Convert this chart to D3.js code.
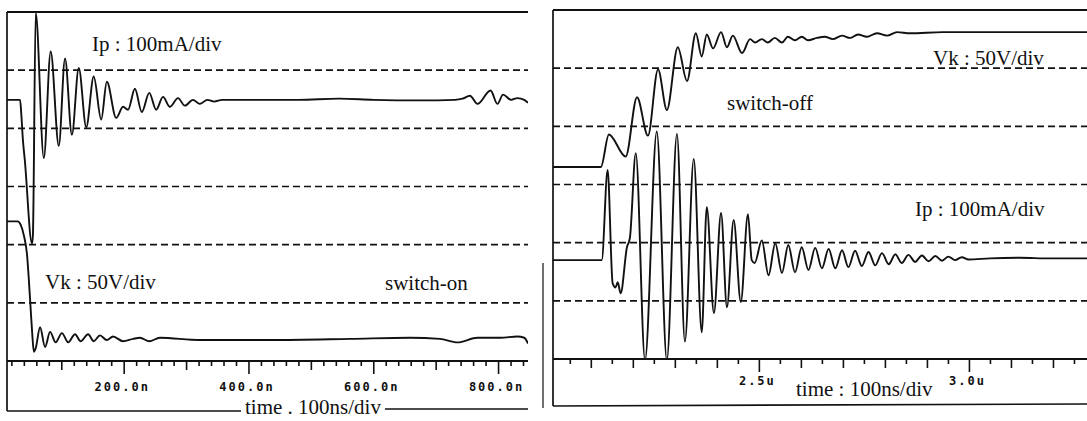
<!DOCTYPE html>
<html>
<head>
<meta charset="utf-8">
<script src="https://cdn.jsdelivr.net/npm/d3@7"></script>
<style>
  html, body { margin: 0; padding: 0; background: #fff; }
  svg { display: block; }
  .rotulo { font-family: "Liberation Serif", "Times New Roman", serif; font-size: 21px; fill: #111; }
  .tick text { font-family: "DejaVu Sans Mono", monospace; font-weight: bold; font-size: 12px; letter-spacing: 2px; fill: #111; }
</style>
</head>
<body>
<svg id="grafico" width="1087" height="421"></svg>
<script>
/*************************** DADOS LIDOS DA FIGURA ***************************/
// switch-on : [tempo (ns), Ip (mA)]
var onIp = [
    [13, 0], [34, 0], [36, -26], [38.5, -69], [41.5, -103], [53, -247], [54.5, -233], [59, 150],
    [72, -100], [83, 83], [96, -79], [106, 71], [117, -60], [128, 55], [140, -47], [152, 40],
    [164, -34], [173, 31], [188, -31], [199, -12], [207, -17], [218, 19], [229, -21], [241, 12],
    [252, -17], [263, 5], [274, -12], [287, 3], [298, -10], [311, 0], [322, -7], [334, 0],
    [345, -3], [358, 0], [480, 0], [545, 2], [600, 0], [675, -1], [731, 0], [743, 2], [755, 7],
    [767, -7], [788, 16], [799, -7], [808, 9], [821, 0], [831, 3], [842, 0], [848, -5]
];
// switch-on : [tempo (ns), Vk (V)]
var onVk = [
    [13, 100], [30, 100], [35, 97], [40, 88], [45, 72], [48, 50], [51, 24], [53.5, 3], [56, -12],
    [59, -9], [66, 9], [74, -8], [82, 5], [91, -4], [101, 4], [111, -4], [122, 3], [131, -3],
    [143, 3], [152, -3], [162, 2], [173, -2], [183, 1], [199, -3], [215, -1], [226, 0], [241, -3],
    [258, 0], [322, -2], [435, -2], [563, -1], [659, 0], [707, -1], [735, -4], [767, 0], [804, 0],
    [831, 1], [842, 0], [848, -5]
];
// switch-off : [tempo (ns), Vk (V)]
var offVk = [
    [2010, 0], [2124, 0], [2143, 28], [2183, 9], [2210, 60], [2236, 27], [2260, 84], [2281, 49],
    [2307, 103], [2329, 74], [2350, 115], [2364, 95], [2376, 114], [2391, 102], [2410, 116],
    [2424, 103], [2438, 113], [2460, 98], [2479, 110], [2491, 107], [2507, 110], [2521, 107],
    [2538, 111], [2555, 107], [2569, 112], [2586, 109], [2602, 112], [2617, 109], [2638, 111],
    [2657, 112], [2676, 110], [2698, 113], [2717, 111], [2736, 114], [2757, 112], [2781, 115],
    [2805, 113], [2829, 116], [2860, 115], [2938, 116], [3098, 116], [3281, 116]
];
// switch-off : [tempo (ns), Ip (mA)]
var offIp = [
    [2010, 0], [2126, 0], [2140, 155], [2152, -40], [2159, -47], [2164, -38], [2171, -57],
    [2186, 22], [2193, 38], [2207, 184], [2229, -172], [2257, 221], [2281, -172], [2305, 217],
    [2324, -140], [2345, 174], [2364, -124], [2376, 91], [2393, -91], [2410, 81], [2424, -81],
    [2440, 69], [2457, -72], [2474, 79], [2483, 0], [2490, -5], [2507, 34], [2523, -26],
    [2539, 29], [2555, -22], [2570, 26], [2586, -21], [2602, 22], [2618, -17], [2634, 21],
    [2650, -14], [2666, 19], [2682, -14], [2698, 17], [2713, -12], [2729, 16], [2745, -10],
    [2761, 14], [2777, -9], [2793, 12], [2809, -7], [2825, 10], [2840, -5], [2856, 9],
    [2872, -3], [2888, 8], [2904, -2], [2920, 7], [2936, -1], [2951, 6], [2967, 0], [2983, 5],
    [2999, 1], [3050, 3], [3121, 4], [3193, 3], [3281, 3]
];

var ticksOn = [200, 400, 600, 800];          // rótulos do eixo (ns)
var ticksOff = [2500, 3000];
var textosOn = ['Ip : 100mA/div', 'Vk : 50V/div', 'switch-on'];
var textosOff = ['Vk : 50V/div', 'switch-off', 'Ip : 100mA/div'];
var tituloOn = 'time . 100ns/div';
var tituloOff = 'time : 100ns/div';

/*************************** CONFIGURAÇÃO DOS PAINÉIS ***************************/
var preto = '#111';
var svg = d3.select('#grafico');

var paineis = [
    {
        nome: 'on', x0: 7, x1: 528, yTopo: 12, yEixo: 361, yBase: 411,
        tempo: [13, 848], passoMenor: 20, passoMedio: 100, rotulos: ticksOn, padding: 8,
        formato: function (d) { return d.toFixed(1) + 'n'; },
        tracos: [ { dados: onIp, zero: 4.49, porDiv: 100 }, { dados: onVk, zero: 0.40, porDiv: 50 } ],
        textos: textosOn, posTextos: [[92, 51], [45, 289], [385, 290]],
        titulo: tituloOn, posTitulo: [245, 414], tituloCortaBase: true
    },
    {
        nome: 'off', x0: 553, x1: 1087, yTopo: 10, yEixo: 359, yBase: 406,
        tempo: [2010, 3281], passoMenor: 50, passoMedio: 100, rotulos: ticksOff, padding: 4,
        formato: function (d) { return (d / 1000).toFixed(1) + 'u'; },
        tracos: [ { dados: offVk, zero: 3.30, porDiv: 50 }, { dados: offIp, zero: 1.70, porDiv: 100 } ],
        textos: textosOff, posTextos: [[933, 65], [727, 110], [915, 216]],
        titulo: tituloOff, posTitulo: [796, 396], tituloCortaBase: false
    }
];

paineis.forEach(desenhaPainel);

// traço parcial da borda direita do painel esquerdo (visível na figura)
svg.append('line')
    .attr('x1', 543).attr('x2', 543).attr('y1', 263).attr('y2', 408)
    .attr('stroke', preto).attr('stroke-width', 1.2);

/*************************** FUNÇÕES ***************************/
function desenhaPainel(p) {
    var g = svg.append('g').attr('id', 'painel_' + p.nome);

    var x = d3.scaleLinear().domain(p.tempo).range([p.x0, p.x1]);
    var y = d3.scaleLinear().domain([0, 6]).range([p.yEixo, p.yTopo]);

    // linhas tracejadas das divisões
    g.append('g').selectAll('line')
        .data(d3.range(1, 6))
        .enter()
        .append('line')
        .attr('x1', p.x0).attr('x2', p.x1)
        .attr('y1', function (d) { return y(d); })
        .attr('y2', function (d) { return y(d); })
        .attr('stroke', preto).attr('stroke-width', 1.7)
        .attr('stroke-dasharray', '7,4');

    // moldura: topo, lado esquerdo e linha do eixo
    linha(g, p.x0, y(6), p.x1, y(6), 2);
    linha(g, p.x0, y(6), p.x0, p.yBase, 1.7);
    linha(g, p.x0, p.yEixo, p.x1, p.yEixo, 2);

    // marcas do eixo do tempo: menores, médias e principais
    var todas = d3.range(Math.ceil(p.tempo[0] / p.passoMenor) * p.passoMenor, p.tempo[1], p.passoMenor);
    var menores = todas.filter(function (d) { return d % p.passoMedio !== 0; });
    var medias = todas.filter(function (d) { return d % p.passoMedio === 0 && p.rotulos.indexOf(d) < 0; });
    eixo(g, x, p.yEixo, menores, 5, function () { return ''; }, 3);
    eixo(g, x, p.yEixo, medias, 9, function () { return ''; }, 3);
    eixo(g, x, p.yEixo, p.rotulos, 13, p.formato, p.padding);

    // curvas do osciloscópio
    var clipId = 'clip_' + p.nome;
    g.append('clipPath').attr('id', clipId)
        .append('rect')
        .attr('x', p.x0).attr('y', p.yTopo - 1)
        .attr('width', p.x1 - p.x0).attr('height', p.yEixo - p.yTopo + 2);

    p.tracos.forEach(function (tr) {
        var gerador = d3.line()
            .x(function (d) { return x(d[0]); })
            .y(function (d) { return y(tr.zero + d[1] / tr.porDiv); })
            .curve(d3.curveMonotoneX);
        g.append('path')
            .datum(tr.dados)
            .attr('clip-path', 'url(#' + clipId + ')')
            .attr('d', gerador)
            .attr('fill', 'none')
            .attr('stroke', preto)
            .attr('stroke-width', 1.9)
            .attr('stroke-linejoin', 'round');
    });

    // textos das curvas
    p.textos.forEach(function (t, i) {
        g.append('text').attr('class', 'rotulo')
            .attr('x', p.posTextos[i][0]).attr('y', p.posTextos[i][1])
            .text(t);
    });

    // título do eixo e linha de base
    var titulo = g.append('text').attr('class', 'rotulo')
        .attr('x', p.posTitulo[0]).attr('y', p.posTitulo[1])
        .text(p.titulo);
    if (p.tituloCortaBase) {
        var largura = titulo.node().getComputedTextLength();
        linha(g, p.x0, p.yBase, p.posTitulo[0] - 4, p.yBase, 1.7);
        linha(g, p.posTitulo[0] + largura + 4, p.yBase - 2, p.x1, p.yBase - 2, 1.7);
    } else {
        linha(g, p.x0, p.yBase, p.x1, p.yBase - 2, 1.7);
    }
}

function eixo(g, x, yEixo, valores, tamanho, formato, padding) {
    var ax = d3.axisBottom(x)
        .tickValues(valores)
        .tickSize(tamanho)
        .tickSizeOuter(0)
        .tickPadding(padding)
        .tickFormat(formato);
    var sel = g.append('g')
        .attr('transform', 'translate(0,' + yEixo + ')')
        .call(ax);
    sel.select('.domain').remove();
    sel.selectAll('line').attr('stroke', preto).attr('stroke-width', 1.6);
    sel.selectAll('text').attr('dx', -2);
}

function linha(g, xa, ya, xb, yb, largura) {
    g.append('line')
        .attr('x1', xa).attr('y1', ya).attr('x2', xb).attr('y2', yb)
        .attr('stroke', preto).attr('stroke-width', largura);
}
</script>
</body>
</html>
